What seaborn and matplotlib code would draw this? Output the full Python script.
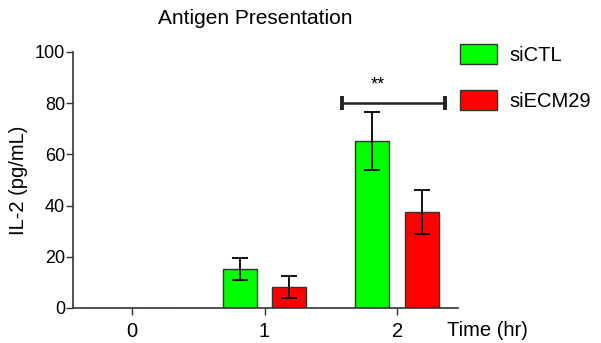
import matplotlib
matplotlib.use("Agg")
import matplotlib.pyplot as plt
import seaborn as sns
import pandas as pd
from matplotlib.patches import Patch

times = ["0", "1", "2"]
groups = ["siCTL", "siECM29"]
ctl_mean = [0.0, 15.1, 65.3]
ctl_err = [0.0, 4.3, 11.2]
ecm_mean = [0.0, 8.2, 37.6]
ecm_err = [0.0, 4.3, 8.5]
colors = ["#00FF00", "#FF0000"]
yticks = [0, 20, 40, 60, 80, 100]

sns.set_style("ticks")
plt.rcParams["font.family"] = ["Liberation Sans", "DejaVu Sans"]
plt.rcParams["text.color"] = "black"
plt.rcParams["axes.labelcolor"] = "black"
plt.rcParams["xtick.color"] = "black"
plt.rcParams["ytick.color"] = "black"
FS = 14.5
FS_Y = 13

df = pd.DataFrame({
    "time": times * 2,
    "group": [groups[0]] * 3 + [groups[1]] * 3,
    "value": ctl_mean + ecm_mean,
})

fig = plt.figure(figsize=(6.01, 3.43), dpi=100)
W, H = 601, 343
ax = fig.add_axes([73.3 / W, 1 - 308 / H, (457.7 - 73.3) / W, (308 - 52) / H])

sns.barplot(data=df, x="time", y="value", hue="group", order=times, hue_order=groups,
            palette=colors, saturation=1, width=0.75, gap=0.317, errorbar=None, ax=ax,
            edgecolor="#333333", linewidth=1.0, legend=False)

# error bars at the bar centers
for cont, errs in zip(ax.containers, [ctl_err, ecm_err]):
    for p, e in zip(cont.patches, errs):
        h = p.get_height()
        if h <= 0:
            continue
        cx = p.get_x() + p.get_width() / 2
        ax.errorbar(cx, h, yerr=e, color="black", capsize=6, elinewidth=1.3,
                    capthick=1.3, fmt="none", zorder=5)

ax.set_xlim(-0.44, 2.455)
ax.set_ylim(0, 100)
ax.set_yticks(yticks)
ax.set_xlabel("")
ax.set_ylabel("IL-2 (pg/mL)", fontsize=FS)
ax.yaxis.set_label_coords(-0.118, 0.5)
ax.tick_params(axis="both", color="#333333", width=1.0, length=5, direction="out")
ax.tick_params(axis="y", labelsize=FS_Y, pad=1)
ax.tick_params(axis="x", labelsize=FS, pad=5)
for s in ["top", "right"]:
    ax.spines[s].set_visible(False)
for s in ["left", "bottom"]:
    ax.spines[s].set_color("#333333")
    ax.spines[s].set_linewidth(1.2)

# significance bracket
x0, x1 = 1.581, 2.359
ax.plot([x0, x1], [80, 80], color="#222222", lw=1.8, clip_on=False)
for xx in [x0, x1]:
    ax.plot([xx, xx], [77.3, 82.7], color="#222222", lw=2.8, clip_on=False, solid_capstyle="butt")
ax.text(1.855, 87, "**", ha="center", va="center", fontsize=FS_Y)

fig.text(255.5 / W, 1 - 18 / H, "Antigen Presentation", ha="center", va="center", fontsize=15)
fig.text(447 / W, 1 - 330 / H, "Time (hr)", ha="left", va="center", fontsize=FS)

handles = [Patch(facecolor=c, edgecolor="#333333", linewidth=1.0, label=g) for c, g in zip(colors, groups)]
fig.legend(handles=handles, loc="upper left", bbox_to_anchor=(460 / W, 1 - 44 / H),
           frameon=False, fontsize=FS, handlelength=1.85, handleheight=1.15,
           labelspacing=1.25, handletextpad=0.6, borderaxespad=0, borderpad=0)

fig.savefig("out.png", dpi=100)
